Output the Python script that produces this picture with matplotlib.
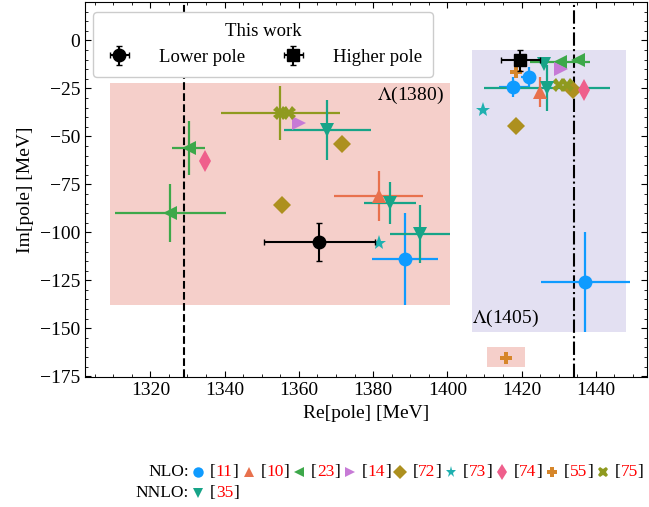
import matplotlib.pyplot as plt
from matplotlib.ticker import MultipleLocator

plt.rcParams['font.family'] = ['Liberation Serif', 'DejaVu Serif']
plt.rcParams['mathtext.fontset'] = 'stix'

# Polos de este trabajo (Re, Im) y sus errores
lower_pole = [1365.5, -105.0]
lower_err = [15.0, 10.0]
higher_pole = [1419.7, -10.3]
higher_err = [5.3, 5.5]

# Resultados de otras referencias: Re, Im, error en Re, error en Im
ref11_re = [1388.6, 1437.1, 1417.8, 1421.9]
ref11_im = [-113.8, -125.7, -24.3, -19.1]
ref11_xerr = [9.0, 12.0, 4.0, 2.0]
ref11_yerr = [24.0, 26.0, 5.0, 5.0]

ref10_re = [1381.5, 1424.9]
ref10_im = [-81.2, -26.9]
ref10_xerr = [12.0, 0.0]
ref10_yerr = [13.0, 8.0]

ref23_re = [1330.3, 1325.4, 1430.3, 1435.2]
ref23_im = [-55.9, -90.0, -11.4, -10.0]
ref23_xerr = [4.5, 15.0, 8.0, 0.0]
ref23_yerr = [14.0, 15.0, 0.0, 0.0]

ref14_re = [1360.1, 1430.6]
ref14_im = [-42.9, -15.0]

ref72_re = [1371.5, 1355.5, 1433.8, 1418.6]
ref72_im = [-53.8, -85.9, -25.9, -44.5]

ref73_re = [1381.5, 1409.7]
ref73_im = [-105.5, -36.2]

ref74_re = [1334.6, 1436.8]
ref74_im = [-62.6, -25.9]

ref55_re = [1418.4, 1415.9]
ref55_im = [-16.6, -165.5]

ref75_re = [1355.0, 1357.4, 1430.0, 1432.2]
ref75_im = [-37.8, -37.8, -23.3, -23.3]
ref75_xerr = [16.0, 0.0, 0.0, 0.0]
ref75_yerr = [14.0, 0.0, 0.0, 0.0]

ref35_re = [1367.7, 1384.5, 1392.6, 1426.0, 1426.8]
ref35_im = [-46.6, -84.8, -100.9, -12.4, -24.8]
ref35_xerr = [11.7, 7.0, 8.0, 0.0, 17.0]
ref35_yerr = [15.7, 11.0, 15.0, 0.0, 12.0]

# Umbrales y regiones
pi_sigma_threshold = 1329.0
kbar_n_threshold = 1434.0
box_1380 = [1309.2, 1400.6, -138.0, -22.0]
box_1405 = [1406.6, 1448.2, -151.8, -5.0]
box_55 = [1410.8, 1420.8, -170.0, -160.0]

# (ref, orden, marcador, color, tamaño, re, im, xerr, yerr)
series = [
    ('11', 'NLO', 'o', '#0f9bff', 10, ref11_re, ref11_im, ref11_xerr, ref11_yerr),
    ('10', 'NLO', '^', '#e8714d', 10, ref10_re, ref10_im, ref10_xerr, ref10_yerr),
    ('23', 'NLO', '<', '#3da84a', 10, ref23_re, ref23_im, ref23_xerr, ref23_yerr),
    ('14', 'NLO', '>', '#c77ad6', 10, ref14_re, ref14_im, None, None),
    ('72', 'NLO', 'D', '#ad901f', 9, ref72_re, ref72_im, None, None),
    ('73', 'NLO', '*', '#1fb0b0', 11, ref73_re, ref73_im, None, None),
    ('74', 'NLO', 'd', '#ef5f8c', 11, ref74_re, ref74_im, None, None),
    ('55', 'NLO', 'P', '#d6862a', 9, ref55_re, ref55_im, None, None),
    ('75', 'NLO', 'X', '#8f9a1f', 10, ref75_re, ref75_im, ref75_xerr, ref75_yerr),
    ('35', 'NNLO', 'v', '#17a488', 10, ref35_re, ref35_im, ref35_xerr, ref35_yerr),
]

fig = plt.figure(figsize=(6.49, 5.07), dpi=100)
ax = fig.add_axes([0.131, 0.256, 0.866, 0.740])

# Cajas de las resonancias
ax.fill_between([box_1380[0], box_1380[1]], box_1380[2], box_1380[3],
                color='#f5cfca', lw=0, zorder=0)
ax.fill_between([box_1405[0], box_1405[1]], box_1405[2], box_1405[3],
                color='#e3e0f2', lw=0, zorder=0)
ax.fill_between([box_55[0], box_55[1]], box_55[2], box_55[3],
                color='#f5cfca', lw=0, zorder=0)
ax.text(box_1380[1] - 1.5, -28.5, r'$\Lambda$(1380)', ha='right', va='center', fontsize=14)
ax.text(box_1405[0], -144.8, r'$\Lambda$(1405)', ha='left', va='center', fontsize=14)

ax.axvline(pi_sigma_threshold, color='k', ls='--', lw=1.5, zorder=1)
ax.axvline(kbar_n_threshold, color='k', ls='-.', lw=1.5, zorder=1)

for ref, order, mk, col, ms, re, im, xe, ye in series:
    ax.errorbar(re, im, xerr=xe, yerr=ye, fmt=mk, color=col, ms=ms,
                elinewidth=1.6, capsize=0, mew=0, zorder=3)

h_low = ax.errorbar(lower_pole[0], lower_pole[1], xerr=lower_err[0], yerr=lower_err[1],
                    fmt='o', color='k', ms=9, elinewidth=1.5, capsize=2.5, zorder=4)
h_high = ax.errorbar(higher_pole[0], higher_pole[1], xerr=higher_err[0], yerr=higher_err[1],
                     fmt='s', color='k', ms=9, elinewidth=1.5, capsize=2.5, zorder=4)

leg = ax.legend([h_low, h_high], ['Lower pole', 'Higher pole'], title='This work',
                loc='upper left', bbox_to_anchor=(0.014, 0.973), borderaxespad=0,
                ncol=2, fontsize=13.5, title_fontsize=13.5, handlelength=1.6,
                handletextpad=1.3, columnspacing=1.8, borderpad=0.6,
                labelspacing=0.45, fancybox=True, framealpha=1, edgecolor='#cccccc')

ax.set_xlim(1302.4, 1453.8)
ax.set_ylim(-175.5, 20)
ax.set_yticks([0, -25, -50, -75, -100, -125, -150, -175])
ax.xaxis.set_major_locator(MultipleLocator(20))
ax.xaxis.set_minor_locator(MultipleLocator(5))
ax.yaxis.set_minor_locator(MultipleLocator(5))
ax.tick_params(which='both', direction='in', top=True, right=True, labelsize=14)
ax.tick_params(which='major', length=4)
ax.tick_params(which='minor', length=2)
ax.set_xlabel('Re[pole] [MeV]', fontsize=14)
ax.set_ylabel('Im[pole] [MeV]', fontsize=14)

# Leyenda inferior con las referencias
lax = fig.add_axes([0, 0, 1, 1])
lax.set_xlim(0, 649)
lax.set_ylim(507, 0)
lax.axis('off')
rows = {'NLO': 472, 'NNLO': 493}
counts = {'NLO': 0, 'NNLO': 0}
for order, y in rows.items():
    lax.text(189, y, order + ':', ha='right', va='center', fontsize=12.5)
for ref, order, mk, col, ms, re, im, xe, ye in series:
    y = rows[order]
    xm = 198 + counts[order] * 50.6
    counts[order] += 1
    lax.plot(xm, y, mk, color=col, ms=ms * 0.75, mew=0)
    t1 = lax.text(xm + 12, y, '[', ha='left', va='center', fontsize=12.5)
    t2 = lax.annotate(ref, xy=(1, 0), xycoords=t1, va='bottom', fontsize=12.5, color='red')
    lax.annotate(']', xy=(1, 0), xycoords=t2, va='bottom', fontsize=12.5)

fig.savefig('out.png', dpi=100)
